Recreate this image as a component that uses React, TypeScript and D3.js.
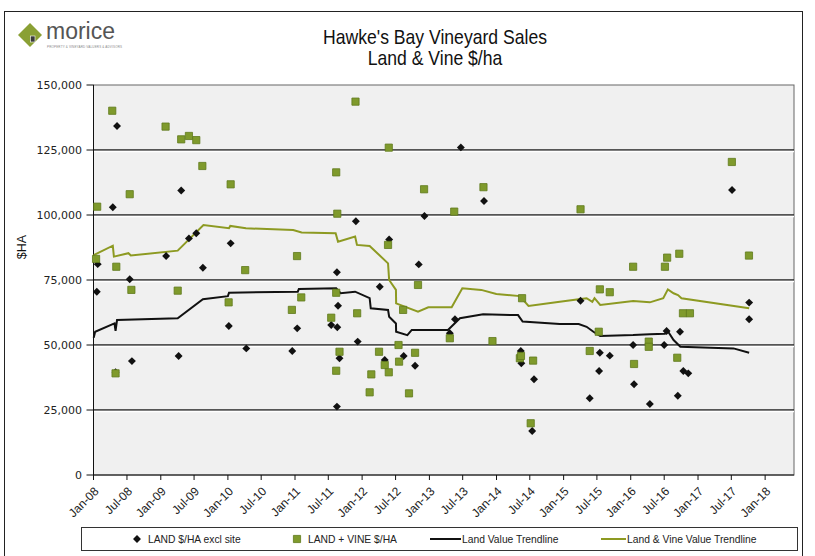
import React from "react";
import * as d3 from "d3";

// LAND $/HA excl site  [sale date, $/ha]
const landSales: [string, number][] = [
  ["2008-05-08", 134200], ["2009-04-22", 109400], ["2008-04-15", 103000], ["2009-06-03", 91000],
  ["2009-07-13", 93000], ["2010-01-16", 89100], ["2009-01-30", 84200], ["2008-01-24", 81100],
  ["2009-08-18", 79700], ["2008-07-16", 75300], ["2008-01-19", 70500], ["2010-01-06", 57300],
  ["2011-01-13", 56400], ["2010-04-11", 48700], ["2010-12-17", 47700], ["2008-07-28", 43800],
  ["2009-04-08", 45800], ["2008-04-30", 39500], ["2013-06-21", 126000], ["2013-10-25", 105400],
  ["2011-11-28", 97600], ["2012-12-05", 99600], ["2012-05-27", 90600], ["2012-11-04", 81000],
  ["2011-08-17", 78000], ["2012-04-06", 72400], ["2011-08-23", 65100], ["2011-07-17", 57700],
  ["2011-08-19", 56800], ["2011-12-08", 51300], ["2013-05-20", 59900], ["2013-04-22", 54500],
  ["2011-08-31", 44900], ["2012-05-03", 44200], ["2012-08-14", 45800], ["2012-10-15", 42000],
  ["2011-08-17", 26300], ["2014-05-13", 47700], ["2014-05-16", 43000], ["2014-07-24", 36800],
  ["2014-07-14", 16900], ["2017-07-05", 109600], ["2015-04-03", 67000], ["2017-10-06", 66300],
  ["2017-10-06", 59900], ["2016-07-14", 55400], ["2016-09-25", 55100], ["2016-01-14", 50000],
  ["2016-07-01", 50000], ["2015-07-17", 47000], ["2015-09-09", 45900], ["2015-07-13", 40000],
  ["2016-01-19", 34900], ["2016-10-13", 40000], ["2016-11-09", 39100], ["2015-05-23", 29500],
  ["2016-04-14", 27300], ["2016-09-13", 30500],
];

// LAND + VINE $/HA
const vineSales: [string, number][] = [
  ["2008-04-12", 140100], ["2009-01-27", 134000], ["2009-04-22", 129100], ["2009-06-03", 130400],
  ["2009-07-13", 128800], ["2009-08-15", 118850], ["2010-01-16", 111800], ["2008-07-16", 108000],
  ["2008-01-21", 103200], ["2008-01-15", 83100], ["2008-05-04", 80100], ["2011-01-12", 84200],
  ["2010-04-05", 78800], ["2008-07-25", 71200], ["2009-04-03", 70900], ["2010-01-05", 66400],
  ["2010-12-15", 63500], ["2011-02-04", 68300], ["2008-04-30", 39100], ["2011-11-26", 143600],
  ["2012-05-25", 125900], ["2011-08-13", 116400], ["2012-12-03", 109900], ["2013-10-22", 110700],
  ["2011-08-19", 100500], ["2013-05-16", 101300], ["2012-05-21", 88500], ["2012-10-31", 73100],
  ["2011-08-13", 70100], ["2011-07-17", 60500], ["2011-12-05", 62200], ["2012-08-11", 63500],
  ["2014-05-20", 68000], ["2013-04-22", 52600], ["2013-12-10", 51500], ["2011-08-31", 47400],
  ["2012-04-02", 47400], ["2012-07-17", 50000], ["2012-10-15", 47000], ["2011-08-13", 40100],
  ["2012-05-03", 42300], ["2012-07-20", 43600], ["2012-05-25", 39500], ["2012-02-20", 38700],
  ["2012-02-11", 31800], ["2012-09-12", 31400], ["2014-05-08", 44900], ["2014-05-14", 45800],
  ["2014-07-19", 44000], ["2014-07-06", 19900], ["2017-07-04", 120400], ["2015-04-03", 102200],
  ["2017-10-05", 84400], ["2016-09-21", 85100], ["2016-07-17", 83600], ["2016-07-05", 80100],
  ["2016-01-14", 80100], ["2015-07-17", 71400], ["2015-09-09", 70300], ["2016-10-11", 62200],
  ["2016-11-18", 62200], ["2015-07-11", 55100], ["2016-04-08", 51300], ["2016-04-08", 49300],
  ["2015-05-23", 47700], ["2016-09-10", 45100], ["2016-01-19", 42700],
];

// Land Value Trendline
const landTrend: [string, number][] = [
  ["2008-01-02", 52800], ["2008-01-10", 55100], ["2008-04-24", 58300], ["2008-04-30", 55400],
  ["2008-05-08", 59600], ["2009-04-03", 60300], ["2009-08-18", 67600], ["2010-01-01", 68800],
  ["2010-01-07", 70100], ["2011-01-16", 70500], ["2011-01-22", 71500], ["2011-08-13", 71800],
  ["2011-09-06", 69900], ["2011-11-24", 70500], ["2012-02-11", 68000], ["2012-02-17", 64100],
  ["2012-05-21", 63500], ["2012-05-27", 60900], ["2012-07-03", 58300], ["2012-07-04", 55100],
  ["2012-09-03", 53800], ["2012-09-27", 55800], ["2013-04-12", 55800], ["2013-06-16", 60300],
  ["2013-10-20", 61800], ["2014-04-28", 61500], ["2014-05-23", 59000], ["2014-12-11", 58100],
  ["2015-03-24", 58100], ["2015-05-06", 57000], ["2015-06-12", 55100], ["2015-07-19", 53500],
  ["2016-01-14", 53800], ["2016-04-14", 54100], ["2016-07-05", 54300], ["2016-07-21", 55300],
  ["2016-08-21", 51900], ["2016-09-27", 49300], ["2017-07-13", 48700], ["2017-10-06", 47000],
];

// Land & Vine Value Trendline
const vineTrend: [string, number][] = [
  ["2008-01-02", 84600], ["2008-04-15", 88200], ["2008-04-21", 84000], ["2008-07-09", 85300],
  ["2008-07-22", 84400], ["2009-04-03", 86300], ["2009-08-21", 96150], ["2010-01-07", 94900],
  ["2010-01-14", 95800], ["2010-04-09", 94900], ["2010-12-22", 94200], ["2011-02-06", 93300],
  ["2011-08-10", 93000], ["2011-08-23", 89700], ["2011-11-24", 91700], ["2011-12-04", 88500],
  ["2012-02-11", 88100], ["2012-05-21", 81400], ["2012-05-27", 75000], ["2012-07-03", 71200],
  ["2012-07-04", 66000], ["2012-10-31", 62800], ["2012-12-26", 64500], ["2013-05-02", 64500],
  ["2013-06-29", 71800], ["2013-10-10", 71200], ["2013-12-31", 69600], ["2014-05-08", 68800],
  ["2014-06-24", 65000], ["2014-12-11", 66600], ["2015-03-24", 67600], ["2015-05-06", 68000],
  ["2015-06-06", 66600], ["2015-06-18", 68000], ["2015-07-19", 65400], ["2016-01-14", 66900],
  ["2016-04-14", 66400], ["2016-06-26", 68000], ["2016-07-21", 71400], ["2016-08-21", 69900],
  ["2016-09-14", 69200], ["2016-10-03", 68000], ["2017-10-06", 64100],
];

const yTicks = [0, 25000, 50000, 75000, 100000, 125000, 150000];

const OLIVE = "#7f9a2c";
const OLIVE_DARK = "#5f7a1c";
const TREND_OLIVE = "#8d9a22";

export default function App() {
  const width = 815;
  const height = 556;
  const plot = { left: 93.5, right: 794, top: 85, bottom: 475 };

  const parse = d3.timeParse("%Y-%m-%d");
  const x = d3
    .scaleTime()
    .domain([new Date(2008, 0, 1), new Date(2018, 5, 7)])
    .range([plot.left, plot.right]);
  const y = d3.scaleLinear().domain([0, 150000]).range([plot.bottom, plot.top]);

  const xTicks = d3.timeMonth.every(6)!.range(new Date(2008, 0, 1), new Date(2018, 0, 2));
  const fmt = d3.timeFormat("%b-%y");
  const yFmt = d3.format(",");

  const line = d3
    .line<[string, number]>()
    .x((d) => x(parse(d[0])!))
    .y((d) => y(d[1]));

  const diamond = d3.symbol().type(d3.symbolDiamond2).size(40)()!;
  const square = d3.symbol().type(d3.symbolSquare).size(52)()!;

  const axisFont = "'DejaVu Sans', Verdana, sans-serif";
  const smallFont = "'Liberation Sans', Arial, sans-serif";

  return (
    <svg
      width={width}
      height={height}
      style={{ position: "absolute", left: 0, top: 0, background: "#fff" }}
    >
      {/* outer frame */}
      <rect x={4.5} y={11.5} width={798} height={560} fill="none" stroke="#222" strokeWidth={1} />

      {/* logo */}
      <g>
        <path d="M30,23 L42,35 L30,47 L18,35 Z" fill="#8aa034" />
        <rect x={30.5} y={36} width={4.5} height={6} fill="#3a3a3a" stroke="#fff" strokeWidth={0.6} />
        <text x={46} y={39} fontFamily={smallFont} fontSize={23} fill="#555">
          morice
        </text>
        <text x={47} y={48} fontFamily={smallFont} fontSize={3} fill="#888" textLength={75}>
          PROPERTY &amp; VINEYARD VALUERS &amp; ADVISORS
        </text>
      </g>

      {/* title */}
      <g
        transform="translate(435,0) scale(0.88,1)"
        fontFamily="'Liberation Sans Narrow', 'Arial Narrow', 'Liberation Sans', sans-serif"
        fontSize={20}
        fill="#111"
        textAnchor="middle"
      >
        <text x={0} y={44}>Hawke's Bay Vineyard Sales</text>
        <text x={0} y={65}>Land &amp; Vine $/ha</text>
      </g>

      {/* plot background */}
      <rect
        x={plot.left}
        y={plot.top}
        width={plot.right - plot.left}
        height={plot.bottom - plot.top}
        fill="#f0f0f0"
        stroke="#666"
        strokeWidth={1}
      />

      {/* gridlines */}
      {yTicks.slice(1, -1).map((t) => (
        <g key={t}>
          <line x1={plot.left} x2={plot.right} y1={y(t)} y2={y(t)} stroke="#222" strokeWidth={1.3} />
          <line x1={plot.left} x2={plot.right} y1={y(t) + 1.5} y2={y(t) + 1.5} stroke="#fff" strokeWidth={1.5} />
        </g>
      ))}

      {/* y axis */}
      <line x1={plot.left} x2={plot.left} y1={plot.top} y2={plot.bottom} stroke="#111" />
      {yTicks.map((t) => (
        <g key={t}>
          <line x1={plot.left - 7} x2={plot.left} y1={y(t)} y2={y(t)} stroke="#111" />
          <text
            x={82}
            y={y(t)}
            dy="0.35em"
            textAnchor="end"
            fontFamily={axisFont}
            fontSize={11}
            fill="#222"
          >
            {yFmt(t)}
          </text>
        </g>
      ))}
      <text
        transform="translate(26,247) rotate(-90)"
        textAnchor="middle"
        fontFamily={smallFont}
        fontSize={12.5}
        fill="#111"
      >
        $HA
      </text>

      {/* x axis */}
      <line x1={plot.left} x2={plot.right} y1={plot.bottom} y2={plot.bottom} stroke="#111" />
      {xTicks.map((d) => (
        <g key={+d}>
          <line x1={x(d)} x2={x(d)} y1={plot.bottom} y2={plot.bottom + 5} stroke="#111" />
          <text
            transform={`translate(${x(d) + 3},${plot.bottom + 14}) rotate(-45)`}
            textAnchor="end"
            dy="0.35em"
            fontFamily={smallFont}
            fontSize={12}
            fill="#222"
          >
            {fmt(d)}
          </text>
        </g>
      ))}

      {/* trendlines */}
      <path d={line(vineTrend)!} fill="none" stroke={TREND_OLIVE} strokeWidth={2} />
      <path d={line(landTrend)!} fill="none" stroke="#111" strokeWidth={2} />

      {/* points */}
      {landSales.map((d, i) => (
        <path
          key={"l" + i}
          d={diamond}
          transform={`translate(${x(parse(d[0])!)},${y(d[1])})`}
          fill="#111"
        />
      ))}
      {vineSales.map((d, i) => (
        <path
          key={"v" + i}
          d={square}
          transform={`translate(${x(parse(d[0])!)},${y(d[1])})`}
          fill={OLIVE}
          stroke={OLIVE_DARK}
          strokeWidth={0.8}
        />
      ))}

      {/* legend */}
      <g fontFamily={smallFont} fontSize={10.3} fill="#222">
        <rect x={81.5} y={527.5} width={716} height={23} fill="#fff" stroke="#333" />
        <path d={diamond} transform="translate(137,539)" fill="#111" />
        <text x={148} y={539} dy="0.35em">LAND $/HA excl site</text>
        <path d={square} transform="translate(297,539)" fill={OLIVE} stroke={OLIVE_DARK} strokeWidth={0.8} />
        <text x={308} y={539} dy="0.35em">LAND + VINE $/HA</text>
        <line x1={430} x2={461} y1={539} y2={539} stroke="#111" strokeWidth={2} />
        <text x={462} y={539} dy="0.35em">Land Value Trendline</text>
        <line x1={601} x2={626} y1={539} y2={539} stroke={TREND_OLIVE} strokeWidth={2} />
        <text x={627} y={539} dy="0.35em">Land &amp; Vine Value Trendline</text>
      </g>
    </svg>
  );
}
